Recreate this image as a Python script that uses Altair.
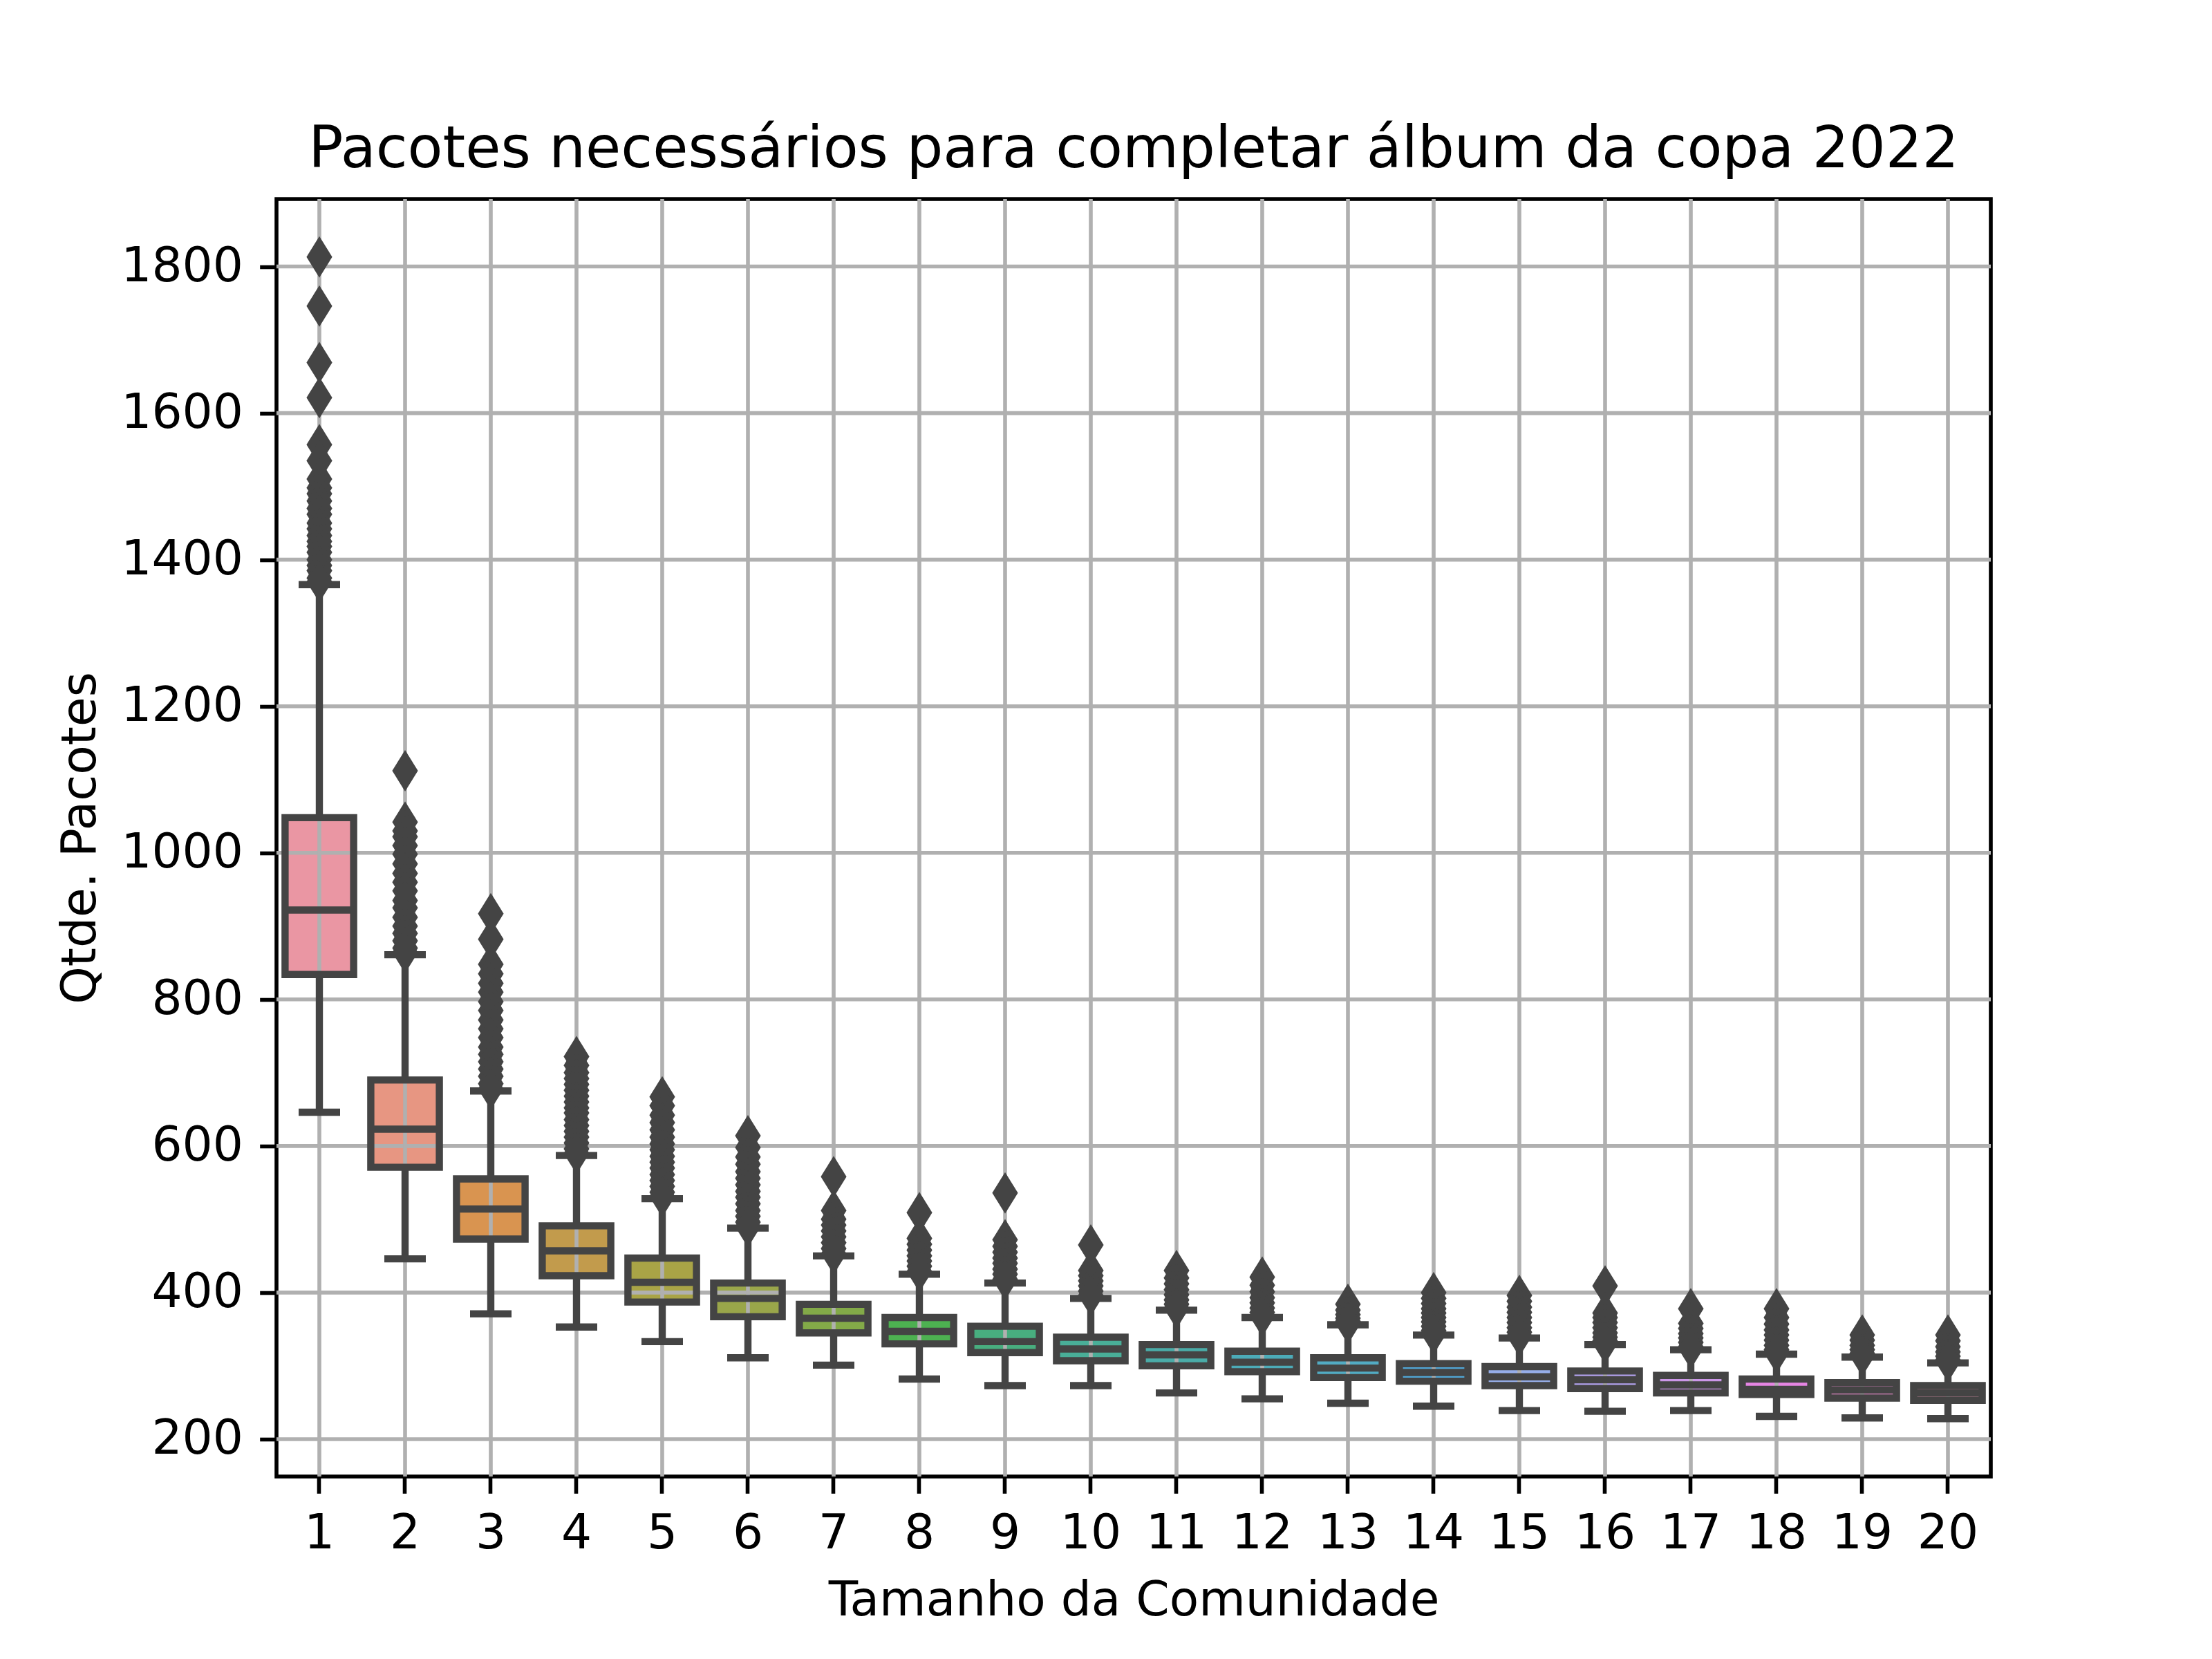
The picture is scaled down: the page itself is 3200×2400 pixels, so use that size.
"""Boxplot: pacotes necessários para completar o álbum da copa 2022."""

import altair as alt
import pandas as pd

# tamanho da comunidade (categorias do eixo x)
tamanhos = list(range(1, 21))

# estatísticas de cada caixa
q1 = [834, 571, 473, 423, 387, 367, 345, 330, 318, 307,
      300, 292, 284, 279, 273, 269, 263, 261, 256, 253]
mediana = [922, 623, 514, 457, 414, 392, 365, 347, 333, 323,
           315, 305, 297, 291, 285, 281, 274, 268, 267, 263]
q3 = [1048, 690, 555, 491, 447, 413, 384, 366, 354, 339,
      329, 320, 311, 303, 299, 293, 287, 282, 277, 273]
bigode_min = [646, 446, 371, 353, 333, 311, 301, 282, 273, 273,
              263, 255, 249, 245, 239, 238, 239, 231, 229, 228]
bigode_max = [1366, 861, 675, 587, 528, 488, 450, 425, 413, 392,
              376, 366, 356, 342, 338, 329, 322, 316, 312, 304]

# outliers de cada caixa
outliers = [
    [1813, 1746, 1669, 1621, 1557, 1535, 1510, 1498, 1490, 1480, 1470, 1462,
     1450, 1442, 1433, 1425, 1418, 1410, 1400, 1392, 1385, 1375, 1370],
    [1112, 1042, 1030, 1022, 1010, 998, 985, 972, 960, 948, 935, 925, 912,
     900, 890, 880, 870, 864],
    [917, 882, 848, 835, 822, 810, 797, 785, 772, 760, 748, 735, 725, 715,
     705, 695, 685, 678],
    [722, 710, 700, 692, 684, 676, 668, 660, 652, 645, 636, 628, 620, 612,
     604, 596, 590],
    [667, 655, 642, 632, 622, 612, 603, 595, 586, 578, 570, 561, 553, 545,
     537, 531],
    [614, 598, 585, 575, 565, 556, 547, 538, 530, 521, 512, 504, 496, 490],
    [558, 512, 500, 492, 484, 476, 468, 460, 453],
    [509, 474, 466, 458, 450, 443, 436, 429],
    [536, 472, 463, 455, 447, 440, 432, 425, 418],
    [465, 430, 423, 416, 409, 402, 396],
    [430, 420, 412, 404, 397, 390, 384, 379],
    [421, 410, 401, 393, 386, 379, 373, 368],
    [384, 376, 370, 365, 361, 358],
    [400, 392, 385, 378, 372, 366, 360, 354, 348, 344],
    [396, 388, 380, 373, 366, 359, 352, 346, 341],
    [409, 372, 366, 359, 352, 345, 339, 334, 331],
    [378, 358, 351, 344, 338, 332, 326, 324],
    [378, 366, 357, 349, 342, 335, 328, 322, 318],
    [342, 335, 328, 322, 317, 314],
    [342, 334, 326, 319, 313, 308, 306],
]

y_ticks = [200, 400, 600, 800, 1000, 1200, 1400, 1600, 1800]

cores = [
    "#ea96a3", "#e79682", "#d99450", "#c29b4c", "#a9a446",
    "#9aa64a", "#83aa48", "#4db151", "#48ae7f", "#49ae98",
    "#4aaca8", "#4cabb8", "#52abc3", "#50a6d6", "#96aee9",
    "#b1a1ec", "#cc97e8", "#e585e3", "#dc86c2", "#d98aa6",
]

LINHA = "#444444"
GRADE = "#b0b0b0"
FONTE = "DejaVu Sans"
LW = 10.4

caixas = pd.DataFrame({
    "tamanho": tamanhos,
    "q1": q1,
    "mediana": mediana,
    "q3": q3,
    "minimo": bigode_min,
    "maximo": bigode_max,
})
pontos = pd.DataFrame(
    [{"tamanho": t, "valor": v} for t, vals in zip(tamanhos, outliers) for v in vals]
)

eixo_comum = dict(
    grid=False,
    domain=False,
    tickColor="black",
    tickWidth=5.6,
    tickSize=24.3,
    labelPadding=24.3,
    labelFont=FONTE,
    labelFontSize=69.4,
    labelColor="black",
    titleFont=FONTE,
    titleFontSize=69.4,
    titleFontWeight="normal",
    titleColor="black",
)

x_enc = alt.X(
    "tamanho:O",
    title="Tamanho da Comunidade",
    scale=alt.Scale(paddingInner=0.2, paddingOuter=0.1),
    axis=alt.Axis(labelAngle=0, bandPosition=0.5, titlePadding=28, **eixo_comum),
)


def y_enc(campo):
    return alt.Y(
        f"{campo}:Q",
        title="Qtde. Pacotes",
        scale=alt.Scale(domain=[149, 1892], nice=False, zero=False),
        axis=alt.Axis(values=y_ticks, format="d", titlePadding=48, **eixo_comum),
    )


base = alt.Chart(caixas)

preenchimento = base.mark_bar(strokeWidth=0).encode(
    x=x_enc,
    y=y_enc("q1"),
    y2="q3:Q",
    color=alt.Color(
        "tamanho:O",
        scale=alt.Scale(domain=tamanhos, range=cores),
        legend=None,
    ),
)

grade_h = alt.Chart(pd.DataFrame({"valor": y_ticks})).mark_rule(
    color=GRADE, strokeWidth=5.6
).encode(y=y_enc("valor"))

grade_v = alt.Chart(pd.DataFrame({"tamanho": tamanhos})).mark_rule(
    color=GRADE, strokeWidth=5.6
).encode(x=x_enc)

bigode_sup = base.mark_rule(color=LINHA, strokeWidth=LW).encode(
    x=x_enc, y=y_enc("q3"), y2="maximo:Q"
)
bigode_inf = base.mark_rule(color=LINHA, strokeWidth=LW).encode(
    x=x_enc, y=y_enc("minimo"), y2="q1:Q"
)

tampas = (
    base.transform_fold(["minimo", "maximo"], as_=["ponta", "valor"])
    .mark_tick(color=LINHA, orient="horizontal", size=60, thickness=LW, opacity=1)
    .encode(x=x_enc, y=y_enc("valor"))
)

contorno = base.mark_bar(
    fillOpacity=0, stroke=LINHA, strokeWidth=LW
).encode(x=x_enc, y=y_enc("q1"), y2="q3:Q")

medianas = base.mark_tick(
    color=LINHA, orient="horizontal", size=99, thickness=LW, opacity=1
).encode(x=x_enc, y=y_enc("mediana"))

fliers = alt.Chart(pontos).mark_point(
    shape="M0,-1L0.62,0L0,1L-0.62,0Z",
    filled=True,
    size=3600,
    color=LINHA,
    opacity=1,
    strokeWidth=0,
).encode(x=x_enc, y=y_enc("valor"))

chart = (
    alt.layer(
        preenchimento, grade_h, grade_v, bigode_sup, bigode_inf,
        tampas, contorno, medianas, fliers,
    )
    .properties(
        width=2480,
        height=1848,
        title=alt.TitleParams(
            "Pacotes necessários para completar álbum da copa 2022",
            font=FONTE,
            fontSize=83.3,
            fontWeight="normal",
            color="black",
            anchor="middle",
            frame="group",
            offset=42,
            dy=82,
            baseline="alphabetic",
        ),
        autosize=alt.AutoSizeParams(type="none"),
        padding={"left": 392, "top": 280, "right": 300, "bottom": 250},
        background="white",
    )
    .configure_view(stroke="black", strokeWidth=5.6)
)

chart.save("out.html", embed_options={"renderer": "svg", "actions": False})
